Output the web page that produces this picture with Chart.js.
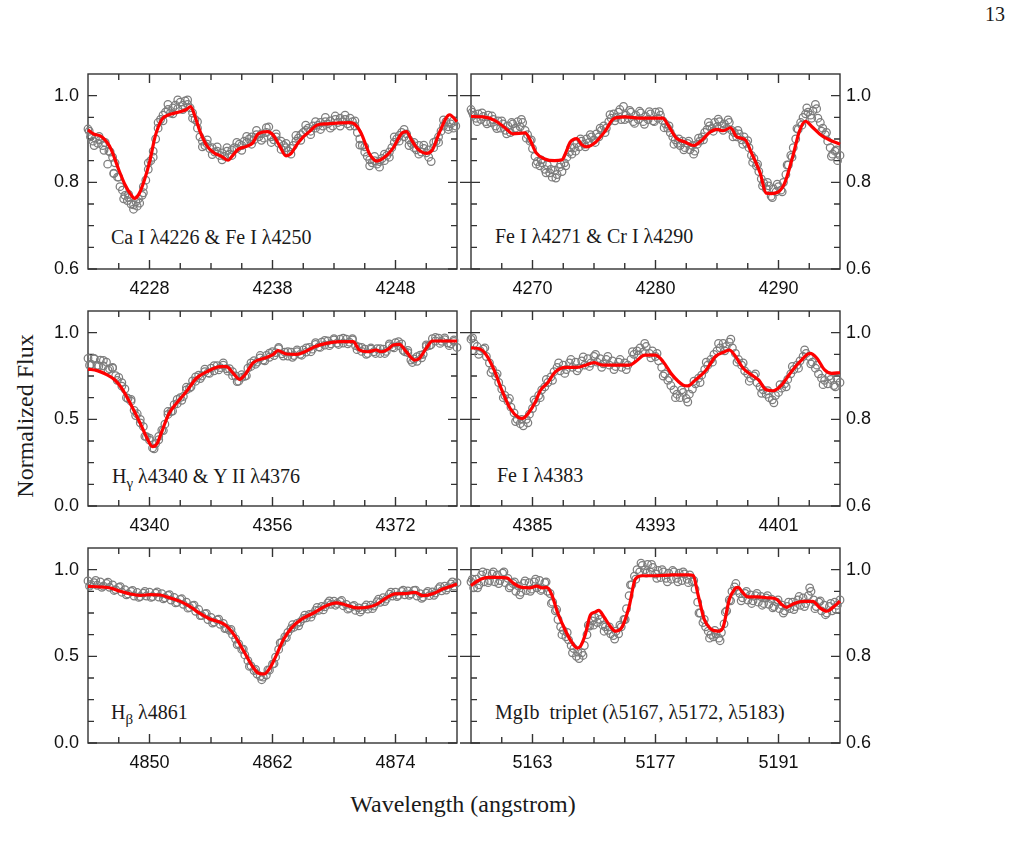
<!DOCTYPE html>
<html>
<head>
<meta charset="utf-8">
<script src="https://cdn.jsdelivr.net/npm/chart.js@4.4.1/dist/chart.umd.min.js"></script>
<style>
  body { margin: 0; background: #fff; width: 1015px; height: 861px; position: relative; overflow: hidden; }
  canvas { position: absolute; }
  .txt { position: absolute; font-family: "Liberation Serif", serif; color: #1a1a1a; white-space: nowrap; }
  .ann { font-size: 20px; line-height: 20px; }
  .sub { font-size: 15px; position: relative; top: 5px; }
</style>
</head>
<body>

<div class="txt" style="left:985px;top:4px;font-size:20px;line-height:20px;">13</div>

<div class="txt ann" style="left:111px;top:227px;">Ca I λ4226 &amp; Fe I λ4250</div>
<div class="txt ann" style="left:495px;top:226px;">Fe I λ4271 &amp; Cr I λ4290</div>
<div class="txt ann" style="left:112px;top:466px;">H<span class="sub">γ</span> λ4340 &amp; Y II λ4376</div>
<div class="txt ann" style="left:497px;top:465px;">Fe I λ4383</div>
<div class="txt ann" style="left:111px;top:702px;">H<span class="sub">β</span> λ4861</div>
<div class="txt ann" style="left:495px;top:702px;">MgIb&nbsp; triplet (λ5167, λ5172, λ5183)</div>

<div class="txt" style="left:313px;top:792px;width:300px;text-align:center;font-size:24px;line-height:24px;">Wavelength (angstrom)</div>
<div class="txt" style="left:-75px;top:404px;width:200px;height:24px;text-align:center;font-size:24px;line-height:24px;transform:rotate(-90deg);">Normalized Flux</div>

<script>
// tick labels
const xTicksCaFe = [4228, 4238, 4248];
const xTicksFeCr = [4270, 4280, 4290];
const xTicksHgamma = [4340, 4356, 4372];
const xTicksFe4383 = [4385, 4393, 4401];
const xTicksHbeta = [4850, 4862, 4874];
const xTicksMgb = [5163, 5177, 5191];
const yTicksMetal = [0.6, 0.8, 1.0];
const yTicksBalmer = [0.0, 0.5, 1.0];

// model fits (wavelength, flux pairs)
const modelCaFe = [4223.0,0.921, 4223.5,0.911, 4224.0,0.907, 4224.5,0.894, 4224.9,0.875, 4225.5,0.829, 4226.0,0.795, 4226.5,0.771, 4226.8,0.763, 4227.1,0.771, 4227.5,0.798, 4228.05,0.852, 4228.45,0.905, 4229.0,0.945, 4229.5,0.955, 4230.5,0.963, 4231.0,0.968, 4231.35,0.975, 4231.7,0.952, 4232.1,0.918, 4232.65,0.885, 4233.2,0.869, 4233.85,0.860, 4234.4,0.851, 4234.7,0.860, 4235.2,0.876, 4235.9,0.883, 4236.4,0.891, 4236.8,0.911, 4237.6,0.917, 4238.05,0.909, 4238.6,0.883, 4239.1,0.861, 4239.5,0.866, 4239.95,0.886, 4240.5,0.905, 4241.0,0.917, 4241.6,0.932, 4242.4,0.935, 4243.5,0.937, 4244.3,0.938, 4244.7,0.934, 4245.2,0.914, 4245.9,0.865, 4246.5,0.849, 4247.2,0.860, 4247.8,0.879, 4248.5,0.913, 4248.9,0.917, 4249.3,0.898, 4249.8,0.877, 4250.5,0.867, 4251.0,0.875, 4251.6,0.917, 4252.4,0.956, 4253.0,0.940];
const modelFeCr = [4265.0,0.952, 4266.0,0.951, 4267.0,0.942, 4267.8,0.925, 4268.4,0.912, 4269.4,0.914, 4269.8,0.898, 4270.3,0.868, 4271.0,0.854, 4271.8,0.850, 4272.4,0.852, 4272.8,0.875, 4273.05,0.892, 4273.6,0.901, 4274.0,0.887, 4274.4,0.882, 4275.1,0.892, 4275.9,0.918, 4276.6,0.947, 4277.5,0.951, 4278.9,0.948, 4280.0,0.948, 4280.6,0.948, 4281.0,0.933, 4281.7,0.902, 4282.4,0.893, 4283.1,0.885, 4283.8,0.898, 4284.4,0.915, 4285.0,0.922, 4285.5,0.919, 4286.1,0.926, 4286.6,0.905, 4287.3,0.898, 4287.8,0.868, 4288.5,0.822, 4289.0,0.775, 4289.4,0.774, 4290.0,0.778, 4290.5,0.798, 4291.2,0.864, 4291.7,0.918, 4292.2,0.941, 4292.7,0.929, 4293.5,0.908, 4294.3,0.896, 4295.0,0.888];
const modelHgamma = [4332.0,0.790, 4333.2,0.781, 4334.5,0.756, 4335.5,0.727, 4336.4,0.679, 4337.5,0.592, 4338.8,0.477, 4339.65,0.394, 4340.4,0.342, 4340.95,0.358, 4341.6,0.429, 4342.5,0.531, 4343.5,0.592, 4344.8,0.660, 4346.1,0.737, 4347.65,0.779, 4349.2,0.804, 4350.0,0.804, 4350.9,0.765, 4351.7,0.731, 4352.4,0.756, 4353.5,0.827, 4355.2,0.856, 4356.1,0.875, 4356.7,0.896, 4357.8,0.877, 4359.1,0.875, 4360.4,0.894, 4361.5,0.919, 4363.0,0.938, 4364.7,0.948, 4366.5,0.948, 4367.3,0.900, 4368.4,0.890, 4369.5,0.900, 4370.1,0.890, 4371.0,0.904, 4371.7,0.929, 4372.5,0.933, 4373.4,0.890, 4374.5,0.842, 4375.1,0.852, 4376.0,0.910, 4376.8,0.952, 4378.1,0.952, 4380.0,0.952];
const modelFe4383 = [4381.0,0.965, 4381.6,0.962, 4382.0,0.948, 4382.5,0.914, 4383.0,0.868, 4383.55,0.825, 4384.1,0.804, 4384.35,0.802, 4384.75,0.815, 4385.2,0.841, 4385.5,0.866, 4385.95,0.883, 4386.5,0.910, 4387.15,0.920, 4387.9,0.920, 4388.45,0.925, 4389.0,0.931, 4389.55,0.925, 4390.4,0.925, 4391.3,0.925, 4391.7,0.933, 4392.3,0.948, 4393.0,0.948, 4393.5,0.933, 4394.1,0.902, 4394.8,0.879, 4395.1,0.877, 4395.6,0.891, 4396.3,0.914, 4396.9,0.945, 4397.5,0.956, 4397.8,0.960, 4398.15,0.948, 4398.7,0.918, 4399.35,0.900, 4399.7,0.891, 4400.2,0.868, 4400.65,0.866, 4401.2,0.879, 4401.75,0.906, 4402.4,0.933, 4403.05,0.952, 4403.5,0.941, 4404.0,0.914, 4404.45,0.906, 4405.0,0.908];
const modelHbeta = [4844.0,0.904, 4845.2,0.900, 4846.2,0.894, 4847.15,0.875, 4848.1,0.860, 4849.1,0.852, 4850.1,0.856, 4851.05,0.854, 4852.0,0.837, 4853.0,0.817, 4854.0,0.785, 4854.95,0.746, 4855.9,0.715, 4856.9,0.696, 4857.55,0.673, 4858.35,0.615, 4859.2,0.529, 4860.0,0.446, 4860.6,0.404, 4861.2,0.398, 4861.75,0.433, 4862.4,0.510, 4863.06,0.596, 4863.9,0.667, 4864.85,0.715, 4866.0,0.750, 4867.1,0.788, 4868.25,0.808, 4869.05,0.798, 4870.2,0.779, 4871.3,0.783, 4872.1,0.798, 4873.1,0.837, 4873.9,0.860, 4874.9,0.862, 4875.9,0.869, 4876.7,0.850, 4877.7,0.862, 4878.6,0.888, 4880.0,0.917];
const modelMgb = [5156.0,0.963, 5156.84,0.975, 5158.0,0.982, 5159.1,0.982, 5160.1,0.981, 5160.8,0.969, 5161.8,0.959, 5162.7,0.958, 5163.5,0.962, 5164.1,0.958, 5164.6,0.959, 5165.2,0.942, 5165.8,0.904, 5166.55,0.868, 5167.3,0.838, 5168.1,0.819, 5168.45,0.823, 5169.0,0.850, 5169.6,0.896, 5170.1,0.902, 5170.55,0.906, 5171.1,0.892, 5171.9,0.868, 5172.45,0.858, 5173.2,0.868, 5174.0,0.915, 5174.7,0.978, 5175.5,0.986, 5177.0,0.986, 5178.9,0.988, 5180.8,0.988, 5181.3,0.986, 5181.8,0.946, 5182.55,0.885, 5183.3,0.863, 5184.1,0.858, 5184.65,0.865, 5185.4,0.931, 5186.0,0.955, 5186.4,0.959, 5186.9,0.948, 5187.5,0.937, 5188.65,0.937, 5189.8,0.935, 5190.75,0.932, 5191.3,0.921, 5191.9,0.913, 5192.65,0.921, 5193.8,0.927, 5194.9,0.927, 5195.7,0.912, 5196.5,0.904, 5197.2,0.913, 5198.0,0.927];

// observed spectra (wavelength, flux pairs), two interleaved reads per panel
const obsCaFe = [4223.0,0.923, 4223.2,0.905, 4223.4,0.895, 4223.6,0.902, 4223.8,0.890, 4224.0,0.898, 4224.2,0.885, 4224.4,0.892, 4224.6,0.842, 4224.8,0.870, 4225.0,0.858, 4225.1,0.821, 4225.2,0.845, 4225.4,0.812, 4225.6,0.790, 4225.8,0.782, 4226.0,0.770, 4226.2,0.758, 4226.3,0.765, 4226.5,0.750, 4226.7,0.748, 4226.9,0.755, 4227.0,0.745, 4227.2,0.752, 4227.4,0.770, 4227.5,0.790, 4227.7,0.805, 4227.9,0.830, 4228.1,0.850, 4228.3,0.872, 4228.5,0.900, 4228.7,0.925, 4228.9,0.945, 4229.1,0.955, 4229.3,0.962, 4229.5,0.968, 4229.7,0.960, 4229.9,0.972, 4230.1,0.978, 4230.3,0.970, 4230.5,0.985, 4230.7,0.978, 4230.9,0.988, 4231.1,0.980, 4231.3,0.972, 4231.5,0.960, 4231.7,0.945, 4231.9,0.925, 4232.1,0.905, 4232.3,0.895, 4232.5,0.885, 4232.7,0.888, 4232.9,0.878, 4233.1,0.880, 4233.3,0.870, 4233.5,0.872, 4233.7,0.862, 4233.9,0.868, 4234.1,0.860, 4234.3,0.872, 4234.5,0.865, 4234.7,0.875, 4234.9,0.880, 4235.1,0.878, 4235.3,0.888, 4235.5,0.885, 4235.7,0.895, 4235.9,0.892, 4236.1,0.900, 4236.3,0.905, 4236.5,0.898, 4236.7,0.910, 4236.9,0.905, 4237.1,0.912, 4237.3,0.902, 4237.5,0.915, 4237.7,0.928, 4237.9,0.905, 4238.1,0.898, 4238.3,0.905, 4238.5,0.890, 4238.7,0.895, 4238.9,0.885, 4239.1,0.880, 4239.3,0.872, 4239.5,0.878, 4239.7,0.885, 4239.9,0.895, 4240.1,0.902, 4240.3,0.910, 4240.5,0.915, 4240.7,0.920, 4240.9,0.925, 4241.1,0.918, 4241.3,0.930, 4241.5,0.925, 4241.7,0.932, 4241.9,0.938, 4242.1,0.930, 4242.3,0.940, 4242.5,0.935, 4242.7,0.942, 4242.9,0.930, 4243.1,0.945, 4243.3,0.938, 4243.5,0.948, 4243.7,0.940, 4243.9,0.945, 4244.1,0.935, 4244.3,0.948, 4244.5,0.940, 4244.7,0.930, 4244.9,0.915, 4245.1,0.900, 4245.3,0.885, 4245.5,0.870, 4245.7,0.860, 4245.9,0.852, 4246.1,0.845, 4246.3,0.850, 4246.5,0.842, 4246.7,0.848, 4246.9,0.855, 4247.1,0.850, 4247.3,0.862, 4247.5,0.870, 4247.7,0.880, 4247.9,0.892, 4248.1,0.900, 4248.3,0.908, 4248.5,0.915, 4248.7,0.905, 4248.9,0.912, 4249.1,0.898, 4249.3,0.890, 4249.5,0.880, 4249.7,0.875, 4249.9,0.885, 4250.1,0.870, 4250.3,0.878, 4250.5,0.868, 4250.7,0.875, 4250.9,0.848, 4251.1,0.880, 4251.3,0.895, 4251.5,0.905, 4251.7,0.918, 4251.9,0.930, 4252.1,0.940, 4252.3,0.928, 4252.5,0.935, 4252.7,0.925, 4252.9,0.930];
const obsCaFeB = [4223.1,0.918, 4223.5,0.885, 4223.9,0.906, 4224.3,0.874, 4224.7,0.872, 4225.1,0.820, 4225.5,0.812, 4225.9,0.762, 4226.3,0.772, 4226.7,0.738, 4227.1,0.762, 4227.5,0.776, 4227.9,0.845, 4228.3,0.858, 4228.7,0.938, 4229.1,0.942, 4229.5,0.980, 4229.9,0.958, 4230.3,0.990, 4230.7,0.968, 4231.1,0.990, 4231.5,0.948, 4231.9,0.940, 4232.3,0.882, 4232.7,0.898, 4233.1,0.864, 4233.5,0.882, 4233.9,0.852, 4234.3,0.880, 4234.7,0.862, 4235.1,0.892, 4235.5,0.874, 4235.9,0.906, 4236.3,0.888, 4236.7,0.920, 4237.1,0.897, 4237.5,0.926, 4237.9,0.892, 4238.3,0.912, 4238.7,0.876, 4239.1,0.890, 4239.5,0.865, 4239.9,0.908, 4240.3,0.897, 4240.7,0.932, 4241.1,0.910, 4241.5,0.940, 4241.9,0.922, 4242.3,0.950, 4242.7,0.925, 4243.1,0.953, 4243.5,0.930, 4243.9,0.955, 4244.3,0.930, 4244.7,0.942, 4245.1,0.886, 4245.5,0.882, 4245.9,0.838, 4246.3,0.860, 4246.7,0.835, 4247.1,0.865, 4247.5,0.858, 4247.9,0.905, 4248.3,0.895, 4248.7,0.922, 4249.1,0.885, 4249.5,0.892, 4249.9,0.865, 4250.3,0.886, 4250.7,0.858, 4251.1,0.892, 4251.5,0.892, 4251.9,0.944, 4252.3,0.922, 4252.7,0.942];
const obsFeCr = [4265.0,0.968, 4265.2,0.955, 4265.4,0.948, 4265.6,0.958, 4265.8,0.945, 4266.0,0.952, 4266.2,0.940, 4266.4,0.955, 4266.6,0.938, 4266.8,0.945, 4267.0,0.930, 4267.2,0.942, 4267.4,0.925, 4267.6,0.935, 4267.8,0.920, 4268.0,0.930, 4268.2,0.915, 4268.4,0.935, 4268.6,0.925, 4268.8,0.940, 4269.0,0.928, 4269.2,0.938, 4269.4,0.920, 4269.6,0.910, 4269.8,0.895, 4270.0,0.878, 4270.2,0.860, 4270.4,0.848, 4270.6,0.838, 4270.8,0.845, 4271.0,0.830, 4271.2,0.840, 4271.4,0.822, 4271.6,0.812, 4271.8,0.828, 4272.0,0.818, 4272.2,0.835, 4272.4,0.825, 4272.6,0.845, 4272.8,0.858, 4273.0,0.870, 4273.2,0.865, 4273.4,0.880, 4273.6,0.890, 4273.8,0.882, 4274.0,0.895, 4274.2,0.888, 4274.4,0.900, 4274.6,0.892, 4274.8,0.905, 4275.0,0.898, 4275.2,0.912, 4275.4,0.905, 4275.6,0.920, 4275.8,0.930, 4276.0,0.925, 4276.2,0.940, 4276.4,0.948, 4276.6,0.958, 4276.8,0.950, 4277.0,0.962, 4277.2,0.945, 4277.4,0.975, 4277.6,0.955, 4277.8,0.948, 4278.0,0.962, 4278.2,0.940, 4278.4,0.955, 4278.6,0.945, 4278.8,0.960, 4279.0,0.940, 4279.2,0.952, 4279.4,0.945, 4279.6,0.958, 4279.8,0.942, 4280.0,0.962, 4280.2,0.948, 4280.4,0.955, 4280.6,0.942, 4280.8,0.935, 4281.0,0.925, 4281.2,0.915, 4281.4,0.905, 4281.6,0.898, 4281.8,0.890, 4282.0,0.885, 4282.2,0.895, 4282.4,0.880, 4282.6,0.890, 4282.8,0.875, 4283.0,0.885, 4283.2,0.872, 4283.4,0.888, 4283.6,0.895, 4283.8,0.905, 4284.0,0.915, 4284.2,0.922, 4284.4,0.930, 4284.6,0.925, 4284.8,0.938, 4285.0,0.928, 4285.2,0.940, 4285.4,0.930, 4285.6,0.935, 4285.8,0.925, 4286.0,0.938, 4286.2,0.920, 4286.4,0.915, 4286.6,0.905, 4286.8,0.912, 4287.0,0.898, 4287.2,0.905, 4287.4,0.890, 4287.6,0.880, 4287.8,0.862, 4288.0,0.855, 4288.2,0.838, 4288.4,0.825, 4288.6,0.808, 4288.8,0.798, 4289.0,0.785, 4289.2,0.792, 4289.4,0.768, 4289.6,0.785, 4289.8,0.778, 4290.0,0.790, 4290.2,0.782, 4290.4,0.800, 4290.6,0.818, 4290.8,0.840, 4291.0,0.862, 4291.2,0.880, 4291.4,0.900, 4291.6,0.922, 4291.8,0.938, 4292.0,0.950, 4292.2,0.958, 4292.4,0.962, 4292.6,0.955, 4292.8,0.965, 4293.0,0.980, 4293.2,0.948, 4293.4,0.938, 4293.6,0.925, 4293.8,0.910, 4294.0,0.895, 4294.2,0.880, 4294.4,0.865, 4294.6,0.872, 4294.8,0.850, 4295.0,0.862];
const obsFeCrB = [4265.1,0.962, 4265.5,0.940, 4265.9,0.960, 4266.3,0.935, 4266.7,0.953, 4267.1,0.924, 4267.5,0.942, 4267.9,0.912, 4268.3,0.938, 4268.7,0.920, 4269.1,0.945, 4269.5,0.902, 4269.9,0.898, 4270.3,0.842, 4270.7,0.852, 4271.1,0.822, 4271.5,0.830, 4271.9,0.810, 4272.3,0.842, 4272.7,0.838, 4273.1,0.880, 4273.5,0.872, 4273.9,0.900, 4274.3,0.882, 4274.7,0.910, 4275.1,0.892, 4275.5,0.925, 4275.9,0.915, 4276.3,0.956, 4276.7,0.942, 4277.1,0.968, 4277.5,0.945, 4277.9,0.966, 4278.3,0.936, 4278.7,0.964, 4279.1,0.934, 4279.5,0.963, 4279.9,0.940, 4280.3,0.963, 4280.7,0.926, 4281.1,0.930, 4281.5,0.888, 4281.9,0.900, 4282.3,0.875, 4282.7,0.895, 4283.1,0.865, 4283.5,0.902, 4283.9,0.898, 4284.3,0.938, 4284.7,0.918, 4285.1,0.946, 4285.5,0.920, 4285.9,0.944, 4286.3,0.905, 4286.7,0.920, 4287.1,0.888, 4287.5,0.896, 4287.9,0.846, 4288.3,0.842, 4288.7,0.792, 4289.1,0.800, 4289.5,0.765, 4289.9,0.796, 4290.3,0.778, 4290.7,0.840, 4291.1,0.858, 4291.5,0.924, 4291.9,0.932, 4292.3,0.972, 4292.7,0.948, 4293.1,0.970, 4293.5,0.918, 4293.9,0.915, 4294.3,0.860, 4294.7,0.875];
const obsHgamma = [4332.0,0.852, 4332.4,0.818, 4332.8,0.848, 4333.2,0.812, 4333.6,0.842, 4334.0,0.808, 4334.4,0.830, 4334.8,0.792, 4335.2,0.795, 4335.6,0.752, 4336.0,0.742, 4336.4,0.692, 4336.8,0.675, 4337.2,0.620, 4337.6,0.605, 4338.0,0.552, 4338.4,0.532, 4338.8,0.480, 4339.2,0.458, 4339.6,0.400, 4340.0,0.380, 4340.4,0.335, 4340.8,0.360, 4341.2,0.382, 4341.6,0.438, 4342.0,0.472, 4342.4,0.528, 4342.8,0.545, 4343.2,0.585, 4343.6,0.590, 4344.0,0.625, 4344.4,0.632, 4344.8,0.670, 4345.2,0.680, 4345.6,0.722, 4346.0,0.720, 4346.4,0.755, 4346.8,0.750, 4347.2,0.775, 4347.6,0.768, 4348.0,0.795, 4348.4,0.780, 4348.8,0.810, 4349.2,0.798, 4349.6,0.812, 4350.0,0.792, 4350.4,0.792, 4350.8,0.752, 4351.2,0.750, 4351.6,0.720, 4352.0,0.742, 4352.4,0.748, 4352.8,0.795, 4353.2,0.805, 4353.6,0.838, 4354.0,0.830, 4354.4,0.855, 4354.8,0.842, 4355.2,0.868, 4355.6,0.858, 4356.0,0.890, 4356.4,0.885, 4356.8,0.908, 4357.2,0.878, 4357.6,0.888, 4358.0,0.865, 4358.4,0.888, 4358.8,0.868, 4359.2,0.890, 4359.6,0.875, 4360.0,0.900, 4360.4,0.888, 4360.8,0.915, 4361.2,0.905, 4361.6,0.932, 4362.0,0.918, 4362.4,0.945, 4362.8,0.928, 4363.2,0.952, 4363.6,0.935, 4364.0,0.958, 4364.4,0.940, 4364.8,0.962, 4365.2,0.940, 4365.6,0.962, 4366.0,0.945, 4366.4,0.958, 4366.8,0.925, 4367.2,0.918, 4367.6,0.892, 4368.0,0.905, 4368.4,0.880, 4368.8,0.905, 4369.2,0.890, 4369.6,0.908, 4370.0,0.880, 4370.4,0.905, 4370.8,0.892, 4371.2,0.925, 4371.6,0.918, 4372.0,0.942, 4372.4,0.925, 4372.8,0.935, 4373.2,0.890, 4373.6,0.885, 4374.0,0.842, 4374.4,0.848, 4374.8,0.835, 4375.2,0.870, 4375.6,0.875, 4376.0,0.920, 4376.4,0.925, 4376.8,0.965, 4377.2,0.952, 4377.6,0.968, 4378.0,0.950, 4378.4,0.960, 4378.8,0.940, 4379.2,0.935, 4379.6,0.950, 4380.0,0.915];
const obsHgammaB = [4332.2,0.812, 4332.8,0.852, 4333.4,0.806, 4334.0,0.840, 4334.6,0.785, 4335.2,0.800, 4335.8,0.725, 4336.4,0.712, 4337.0,0.625, 4337.6,0.615, 4338.2,0.522, 4338.8,0.500, 4339.4,0.402, 4340.0,0.392, 4340.6,0.330, 4341.2,0.402, 4341.8,0.435, 4342.4,0.545, 4343.0,0.548, 4343.6,0.615, 4344.2,0.610, 4344.8,0.685, 4345.4,0.688, 4346.0,0.745, 4346.6,0.735, 4347.2,0.790, 4347.8,0.765, 4348.4,0.810, 4349.0,0.785, 4349.6,0.825, 4350.2,0.778, 4350.8,0.775, 4351.4,0.718, 4352.0,0.758, 4352.6,0.752, 4353.2,0.825, 4353.8,0.818, 4354.4,0.868, 4355.0,0.838, 4355.6,0.882, 4356.2,0.868, 4356.8,0.915, 4357.4,0.865, 4358.0,0.890, 4358.6,0.858, 4359.2,0.900, 4359.8,0.870, 4360.4,0.912, 4361.0,0.890, 4361.6,0.942, 4362.2,0.915, 4362.8,0.955, 4363.4,0.925, 4364.0,0.965, 4364.6,0.932, 4365.2,0.968, 4365.8,0.935, 4366.4,0.965, 4367.0,0.902, 4367.6,0.915, 4368.2,0.875, 4368.8,0.912, 4369.4,0.880, 4370.0,0.908, 4370.6,0.880, 4371.2,0.935, 4371.8,0.912, 4372.4,0.948, 4373.0,0.898, 4373.6,0.898, 4374.2,0.828, 4374.8,0.862, 4375.4,0.855, 4376.0,0.930, 4376.6,0.930, 4377.2,0.972, 4377.8,0.938, 4378.4,0.970, 4379.0,0.925, 4379.6,0.958];
const obsFe4383 = [4381.0,0.985, 4381.2,0.975, 4381.4,0.968, 4381.6,0.958, 4381.8,0.962, 4382.0,0.945, 4382.2,0.930, 4382.4,0.915, 4382.6,0.900, 4382.8,0.885, 4383.0,0.870, 4383.2,0.855, 4383.4,0.842, 4383.6,0.828, 4383.8,0.815, 4384.0,0.800, 4384.2,0.790, 4384.4,0.785, 4384.6,0.800, 4384.8,0.812, 4385.0,0.825, 4385.2,0.840, 4385.4,0.855, 4385.6,0.868, 4385.8,0.875, 4386.0,0.885, 4386.2,0.898, 4386.4,0.910, 4386.6,0.920, 4386.8,0.912, 4387.0,0.925, 4387.2,0.915, 4387.4,0.930, 4387.6,0.920, 4387.8,0.932, 4388.0,0.918, 4388.2,0.935, 4388.4,0.925, 4388.6,0.940, 4388.8,0.930, 4389.0,0.945, 4389.2,0.932, 4389.4,0.940, 4389.6,0.928, 4389.8,0.938, 4390.0,0.925, 4390.2,0.935, 4390.4,0.922, 4390.6,0.932, 4390.8,0.920, 4391.0,0.930, 4391.2,0.925, 4391.4,0.938, 4391.6,0.950, 4391.8,0.958, 4392.0,0.965, 4392.2,0.955, 4392.4,0.968, 4392.6,0.952, 4392.8,0.958, 4393.0,0.945, 4393.2,0.935, 4393.4,0.920, 4393.6,0.905, 4393.8,0.890, 4394.0,0.878, 4394.2,0.868, 4394.4,0.858, 4394.6,0.850, 4394.8,0.862, 4395.0,0.848, 4395.2,0.858, 4395.4,0.870, 4395.6,0.882, 4395.8,0.895, 4396.0,0.902, 4396.2,0.915, 4396.4,0.925, 4396.6,0.938, 4396.8,0.950, 4397.0,0.958, 4397.2,0.965, 4397.4,0.975, 4397.6,0.968, 4397.8,0.978, 4398.0,0.965, 4398.2,0.952, 4398.4,0.938, 4398.6,0.925, 4398.8,0.912, 4399.0,0.905, 4399.2,0.895, 4399.4,0.900, 4399.6,0.885, 4399.8,0.875, 4400.0,0.868, 4400.2,0.858, 4400.4,0.850, 4400.6,0.845, 4400.8,0.855, 4401.0,0.862, 4401.2,0.872, 4401.4,0.882, 4401.6,0.892, 4401.8,0.905, 4402.0,0.915, 4402.2,0.925, 4402.4,0.935, 4402.6,0.945, 4402.8,0.952, 4403.0,0.945, 4403.2,0.932, 4403.4,0.918, 4403.6,0.905, 4403.8,0.895, 4404.0,0.890, 4404.2,0.882, 4404.4,0.892, 4404.6,0.878, 4404.8,0.895, 4405.0,0.885];
const obsFe4383B = [4381.1,0.988, 4381.5,0.950, 4381.9,0.965, 4382.3,0.908, 4382.7,0.905, 4383.1,0.850, 4383.5,0.848, 4383.9,0.795, 4384.3,0.800, 4384.7,0.792, 4385.1,0.845, 4385.5,0.850, 4385.9,0.892, 4386.3,0.890, 4386.7,0.930, 4387.1,0.906, 4387.5,0.938, 4387.9,0.912, 4388.3,0.944, 4388.7,0.922, 4389.1,0.950, 4389.5,0.920, 4389.9,0.945, 4390.3,0.915, 4390.7,0.938, 4391.1,0.915, 4391.5,0.956, 4391.9,0.948, 4392.3,0.975, 4392.7,0.942, 4393.1,0.952, 4393.5,0.900, 4393.9,0.895, 4394.3,0.850, 4394.7,0.868, 4395.1,0.840, 4395.5,0.888, 4395.9,0.885, 4396.3,0.932, 4396.7,0.932, 4397.1,0.975, 4397.5,0.958, 4397.9,0.985, 4398.3,0.932, 4398.7,0.930, 4399.1,0.888, 4399.5,0.905, 4399.9,0.860, 4400.3,0.866, 4400.7,0.838, 4401.1,0.880, 4401.5,0.875, 4401.9,0.922, 4402.3,0.918, 4402.7,0.960, 4403.1,0.928, 4403.5,0.925, 4403.9,0.880, 4404.3,0.900, 4404.7,0.875];
const obsHbeta = [4844.0,0.935, 4844.3,0.915, 4844.6,0.925, 4844.9,0.910, 4845.2,0.930, 4845.5,0.905, 4845.8,0.920, 4846.1,0.898, 4846.4,0.912, 4846.7,0.885, 4847.0,0.898, 4847.3,0.870, 4847.6,0.885, 4847.9,0.860, 4848.2,0.875, 4848.5,0.848, 4848.8,0.868, 4849.1,0.845, 4849.4,0.865, 4849.7,0.848, 4850.0,0.870, 4850.3,0.845, 4850.6,0.865, 4850.9,0.842, 4851.2,0.862, 4851.5,0.838, 4851.8,0.852, 4852.1,0.825, 4852.4,0.840, 4852.7,0.812, 4853.0,0.828, 4853.3,0.800, 4853.6,0.812, 4853.9,0.782, 4854.2,0.792, 4854.5,0.760, 4854.8,0.770, 4855.1,0.735, 4855.4,0.745, 4855.7,0.712, 4856.0,0.725, 4856.3,0.698, 4856.6,0.710, 4856.9,0.685, 4857.2,0.690, 4857.5,0.662, 4857.8,0.650, 4858.1,0.625, 4858.4,0.600, 4858.7,0.572, 4859.0,0.540, 4859.3,0.508, 4859.6,0.475, 4859.9,0.445, 4860.2,0.418, 4860.5,0.398, 4860.8,0.385, 4861.1,0.380, 4861.4,0.392, 4861.7,0.420, 4862.0,0.455, 4862.3,0.495, 4862.6,0.540, 4862.9,0.580, 4863.2,0.612, 4863.5,0.638, 4863.8,0.660, 4864.1,0.668, 4864.4,0.690, 4864.7,0.698, 4865.0,0.718, 4865.3,0.722, 4865.6,0.742, 4865.9,0.745, 4866.2,0.765, 4866.5,0.765, 4866.8,0.788, 4867.1,0.785, 4867.4,0.808, 4867.7,0.800, 4868.0,0.818, 4868.3,0.805, 4868.6,0.815, 4868.9,0.792, 4869.2,0.800, 4869.5,0.778, 4869.8,0.788, 4870.1,0.765, 4870.4,0.780, 4870.7,0.768, 4871.0,0.785, 4871.3,0.772, 4871.6,0.795, 4871.9,0.790, 4872.2,0.815, 4872.5,0.812, 4872.8,0.838, 4873.1,0.830, 4873.4,0.858, 4873.7,0.848, 4874.0,0.870, 4874.3,0.852, 4874.6,0.875, 4874.9,0.855, 4875.2,0.878, 4875.5,0.860, 4875.8,0.880, 4876.1,0.848, 4876.4,0.862, 4876.7,0.842, 4877.0,0.865, 4877.3,0.850, 4877.6,0.872, 4877.9,0.865, 4878.2,0.890, 4878.5,0.878, 4878.8,0.905, 4879.1,0.895, 4879.4,0.918, 4879.7,0.905, 4880.0,0.925];
const obsHbetaB = [4844.15,0.905, 4844.75,0.938, 4845.35,0.898, 4845.95,0.928, 4846.55,0.880, 4847.15,0.902, 4847.75,0.855, 4848.35,0.880, 4848.95,0.840, 4849.55,0.875, 4850.15,0.840, 4850.75,0.872, 4851.35,0.832, 4851.95,0.856, 4852.55,0.808, 4853.15,0.832, 4853.75,0.778, 4854.35,0.795, 4854.95,0.735, 4855.55,0.748, 4856.15,0.692, 4856.75,0.715, 4857.35,0.660, 4857.95,0.655, 4858.55,0.568, 4859.15,0.542, 4859.75,0.442, 4860.35,0.425, 4860.95,0.365, 4861.55,0.422, 4862.15,0.458, 4862.75,0.578, 4863.35,0.608, 4863.95,0.682, 4864.55,0.676, 4865.15,0.738, 4865.75,0.726, 4866.35,0.782, 4866.95,0.768, 4867.55,0.820, 4868.15,0.795, 4868.75,0.822, 4869.35,0.772, 4869.95,0.794, 4870.55,0.756, 4871.15,0.796, 4871.75,0.775, 4872.35,0.830, 4872.95,0.816, 4873.55,0.870, 4874.15,0.845, 4874.75,0.882, 4875.35,0.852, 4875.95,0.882, 4876.55,0.835, 4877.15,0.875, 4877.75,0.852, 4878.35,0.902, 4878.95,0.882, 4879.55,0.930];
const obsMgb = [5156.0,0.972, 5156.3,0.958, 5156.6,0.978, 5156.9,0.965, 5157.2,0.988, 5157.5,0.972, 5157.8,0.992, 5158.1,0.975, 5158.4,0.990, 5158.7,0.972, 5159.0,0.988, 5159.3,0.975, 5159.6,0.992, 5159.9,0.970, 5160.2,0.980, 5160.5,0.962, 5160.8,0.968, 5161.1,0.950, 5161.4,0.962, 5161.7,0.948, 5162.0,0.968, 5162.3,0.952, 5162.6,0.970, 5162.9,0.955, 5163.2,0.972, 5163.5,0.958, 5163.8,0.975, 5164.1,0.955, 5164.4,0.970, 5164.7,0.950, 5165.0,0.945, 5165.3,0.925, 5165.6,0.905, 5165.9,0.885, 5166.2,0.868, 5166.5,0.860, 5166.8,0.845, 5167.1,0.838, 5167.4,0.825, 5167.7,0.818, 5168.0,0.800, 5168.3,0.795, 5168.6,0.808, 5168.9,0.825, 5169.2,0.850, 5169.5,0.870, 5169.8,0.882, 5170.1,0.890, 5170.4,0.878, 5170.7,0.885, 5171.0,0.872, 5171.3,0.868, 5171.6,0.860, 5171.9,0.852, 5172.2,0.848, 5172.5,0.858, 5172.8,0.852, 5173.1,0.868, 5173.4,0.885, 5173.7,0.910, 5174.0,0.940, 5174.3,0.965, 5174.6,0.985, 5174.9,1.000, 5175.2,0.995, 5175.5,1.010, 5175.8,1.000, 5176.1,1.012, 5176.4,0.995, 5176.7,1.005, 5177.0,0.990, 5177.3,0.998, 5177.6,0.982, 5177.9,0.995, 5178.2,0.980, 5178.5,0.992, 5178.8,0.978, 5179.1,0.995, 5179.4,0.980, 5179.7,0.992, 5180.0,0.975, 5180.3,0.990, 5180.6,0.978, 5180.9,0.988, 5181.2,0.972, 5181.5,0.955, 5181.8,0.925, 5182.1,0.900, 5182.4,0.878, 5182.7,0.868, 5183.0,0.858, 5183.3,0.850, 5183.6,0.845, 5183.9,0.852, 5184.2,0.842, 5184.5,0.855, 5184.8,0.875, 5185.1,0.905, 5185.4,0.930, 5185.7,0.950, 5186.0,0.960, 5186.3,0.952, 5186.6,0.945, 5186.9,0.935, 5187.2,0.945, 5187.5,0.930, 5187.8,0.942, 5188.1,0.928, 5188.4,0.940, 5188.7,0.925, 5189.0,0.938, 5189.3,0.922, 5189.6,0.935, 5189.9,0.920, 5190.2,0.932, 5190.5,0.915, 5190.8,0.925, 5191.1,0.910, 5191.4,0.918, 5191.7,0.905, 5192.0,0.915, 5192.3,0.910, 5192.6,0.925, 5192.9,0.915, 5193.2,0.930, 5193.5,0.918, 5193.8,0.935, 5194.1,0.922, 5194.4,0.940, 5194.7,0.950, 5195.0,0.930, 5195.3,0.915, 5195.6,0.925, 5195.9,0.905, 5196.2,0.918, 5196.5,0.900, 5196.8,0.915, 5197.1,0.905, 5197.4,0.925, 5197.7,0.918, 5198.0,0.930];
const obsMgbB = [5156.15,0.978, 5156.75,0.958, 5157.35,0.995, 5157.95,0.970, 5158.55,0.995, 5159.15,0.968, 5159.75,0.995, 5160.35,0.958, 5160.95,0.972, 5161.55,0.942, 5162.15,0.974, 5162.75,0.950, 5163.35,0.978, 5163.95,0.952, 5164.55,0.972, 5165.15,0.922, 5165.75,0.908, 5166.35,0.850, 5166.95,0.855, 5167.55,0.808, 5168.15,0.810, 5168.75,0.802, 5169.35,0.872, 5169.95,0.872, 5170.55,0.895, 5171.15,0.858, 5171.75,0.868, 5172.35,0.840, 5172.95,0.872, 5173.55,0.885, 5174.15,0.965, 5174.75,0.978, 5175.35,1.015, 5175.95,0.992, 5176.55,1.012, 5177.15,0.980, 5177.75,1.000, 5178.35,0.972, 5178.95,0.998, 5179.55,0.972, 5180.15,0.995, 5180.75,0.970, 5181.35,0.975, 5181.95,0.900, 5182.55,0.885, 5183.15,0.842, 5183.75,0.860, 5184.35,0.836, 5184.95,0.902, 5185.55,0.928, 5186.15,0.968, 5186.75,0.928, 5187.35,0.950, 5187.95,0.922, 5188.55,0.945, 5189.15,0.918, 5189.75,0.940, 5190.35,0.912, 5190.95,0.930, 5191.55,0.900, 5192.15,0.925, 5192.75,0.908, 5193.35,0.938, 5193.95,0.915, 5194.55,0.958, 5195.15,0.910, 5195.75,0.928, 5196.35,0.896, 5196.95,0.922, 5197.55,0.908];

// layout
const rowTop = [74, 311, 548];
const colLeft = [88, 471];
const plotW = 369, plotH = 195;
const padOut = 12, axW = 60, axH = 40;

const panels = [
  { obs: [obsCaFe, obsCaFeB], model: modelCaFe, xMin: 4223, xMax: 4253, xMinor: 2.5, xTicks: xTicksCaFe, yMin: 0.6, yMax: 1.05, yMinor: 0.05, yTicks: yTicksMetal, row: 0, col: 0 },
  { obs: [obsFeCr, obsFeCrB], model: modelFeCr, xMin: 4265, xMax: 4295, xMinor: 2.5, xTicks: xTicksFeCr, yMin: 0.6, yMax: 1.05, yMinor: 0.05, yTicks: yTicksMetal, row: 0, col: 1 },
  { obs: [obsHgamma, obsHgammaB], model: modelHgamma, xMin: 4332, xMax: 4380, xMinor: 4, xTicks: xTicksHgamma, yMin: 0, yMax: 1.125, yMinor: 0.125, yTicks: yTicksBalmer, row: 1, col: 0 },
  { obs: [obsFe4383, obsFe4383B], model: modelFe4383, xMin: 4381, xMax: 4405, xMinor: 2, xTicks: xTicksFe4383, yMin: 0.6, yMax: 1.05, yMinor: 0.05, yTicks: yTicksMetal, row: 1, col: 1 },
  { obs: [obsHbeta, obsHbetaB], model: modelHbeta, xMin: 4844, xMax: 4880, xMinor: 3, xTicks: xTicksHbeta, yMin: 0, yMax: 1.125, yMinor: 0.125, yTicks: yTicksBalmer, row: 2, col: 0 },
  { obs: [obsMgb, obsMgbB], model: modelMgb, xMin: 5156, xMax: 5198, xMinor: 3.5, xTicks: xTicksMgb, yMin: 0.6, yMax: 1.05, yMinor: 0.05, yTicks: yTicksMetal, row: 2, col: 1 }
];

function pairs(arr) {
  const out = [];
  for (let i = 0; i < arr.length; i += 2) out.push({ x: arr[i], y: arr[i + 1] });
  return out;
}

function isMajor(list, v) {
  return list.some(t => Math.abs(t - v) < 1e-6);
}

// box with inward ticks on all four sides
function frameTicks(p, isRight) {
  return {
    id: 'frameTicks',
    beforeDatasetsDraw(chart) {
      const ctx = chart.ctx, a = chart.chartArea;
      const xs = chart.scales.x, ys = chart.scales.y;
      ctx.save();
      ctx.strokeStyle = '#333';
      ctx.lineWidth = 1.4;
      ctx.strokeRect(a.left, a.top, a.width, a.height);
      ctx.beginPath();
      const nx = Math.round((p.xMax - p.xMin) / p.xMinor);
      for (let i = 1; i < nx; i++) {
        const v = p.xMin + i * p.xMinor;
        const px = xs.getPixelForValue(v);
        const len = isMajor(p.xTicks, v) ? 9 : 6;
        ctx.moveTo(px, a.bottom); ctx.lineTo(px, a.bottom - len);
        ctx.moveTo(px, a.top); ctx.lineTo(px, a.top + len);
      }
      const ny = Math.round((p.yMax - p.yMin) / p.yMinor);
      for (let i = 0; i < ny; i++) {
        const v = p.yMin + i * p.yMinor;
        const py = ys.getPixelForValue(v);
        const major = isMajor(p.yTicks, v);
        const len = major ? 9 : 6;
        ctx.moveTo(a.left - (isRight && major ? 11 : 0), py); ctx.lineTo(a.left + len, py);
        ctx.moveTo(a.right, py); ctx.lineTo(a.right - len, py);
      }
      ctx.stroke();
      ctx.restore();
    }
  };
}

panels.forEach(p => {
  const isRight = p.col === 1;
  const cv = document.createElement('canvas');
  const cw = padOut + plotW + axW, ch = padOut + plotH + axH;
  cv.width = cw; cv.height = ch;
  cv.style.width = cw + 'px'; cv.style.height = ch + 'px';
  cv.style.left = (isRight ? colLeft[1] - padOut : colLeft[0] - axW) + 'px';
  cv.style.top = (rowTop[p.row] - padOut) + 'px';
  document.body.appendChild(cv);

  const obsPoints = pairs(p.obs[0]).concat(pairs(p.obs[1]));

  new Chart(cv, {
    type: 'scatter',
    data: {
      datasets: [
        {
          data: pairs(p.model),
          showLine: true,
          borderColor: '#ff0000',
          borderWidth: 3.2,
          pointRadius: 0,
          cubicInterpolationMode: 'monotone',
          clip: 2,
          order: 0
        },
        {
          data: obsPoints,
          showLine: false,
          pointRadius: 3.8,
          pointBorderWidth: 1.25,
          borderColor: 'rgb(125,125,125)',
          backgroundColor: 'rgba(0,0,0,0)',
          clip: 5,
          order: 1
        }
      ]
    },
    options: {
      responsive: false,
      animation: false,
      devicePixelRatio: 1,
      events: [],
      layout: { padding: { top: padOut, bottom: 0, left: isRight ? padOut : 0, right: isRight ? 0 : padOut } },
      plugins: { legend: { display: false }, tooltip: { enabled: false } },
      scales: {
        x: {
          type: 'linear', position: 'bottom', min: p.xMin, max: p.xMax,
          grid: { display: false, drawTicks: false },
          border: { display: false },
          afterBuildTicks: s => { s.ticks = p.xTicks.map(v => ({ value: v })); },
          afterFit: s => { s.height = axH; s.paddingLeft = 0; s.paddingRight = 0; },
          ticks: {
            autoSkip: false, maxRotation: 0, padding: 9, color: '#111',
            font: { family: 'Liberation Sans', size: 18 },
            callback: v => String(v)
          }
        },
        y: {
          type: 'linear', position: isRight ? 'right' : 'left', min: p.yMin, max: p.yMax,
          grid: { display: false, drawTicks: false },
          border: { display: false },
          afterBuildTicks: s => { s.ticks = p.yTicks.map(v => ({ value: v })); },
          afterFit: s => { s.width = axW; s.paddingTop = 0; s.paddingBottom = 0; },
          ticks: {
            autoSkip: false, padding: isRight ? 6 : 9, color: '#111',
            font: { family: 'Liberation Sans', size: 18 },
            callback: v => v.toFixed(1)
          }
        }
      }
    },
    plugins: [frameTicks(p, isRight)]
  });
});
</script>
</body>
</html>
